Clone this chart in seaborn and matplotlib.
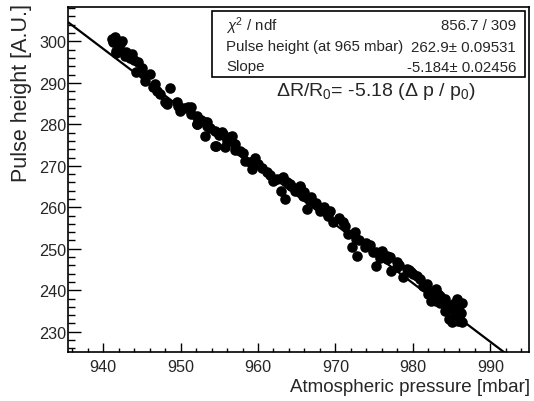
import numpy as np
import pandas as pd
import matplotlib
matplotlib.use('Agg')
import matplotlib.pyplot as plt
import seaborn as sns
from matplotlib.patches import Rectangle
from matplotlib.ticker import MultipleLocator

pressure = [
    941.5, 942.4, 941.7, 943.5, 944.5, 944.3, 945.4, 946.7, 948.6, 948.0,
    949.7, 951.0, 951.4, 952.1, 953.4, 954.4, 955.5, 956.6, 954.6,
    941.3, 942.2, 941.7, 942.8, 943.7, 946.0, 945.4, 946.5, 947.3, 948.2,
    949.5, 949.9, 951.0, 952.1, 953.4,
    951.4, 952.1, 952.1, 953.1, 953.1, 954.4, 955.3, 956.4, 955.7, 957.7,
    958.3, 959.2, 959.6, 961.1, 961.9, 963.2, 964.1, 965.4, 966.0, 963.0,
    963.5, 964.3, 965.4, 965.8, 966.7, 966.3, 968.0, 969.3, 969.7, 971.2,
    971.6, 972.7, 972.1, 973.8, 975.3, 976.6, 972.8,
    974.9, 975.3, 976.6, 977.9, 977.2, 979.2, 978.7, 979.8, 980.9, 981.3,
    982.4, 983.0, 983.0, 984.1, 985.2, 986.0, 984.7, 986.0, 985.4, 982.4,
    983.5, 985.1, 986.3, 984.9, 985.7,
    956.0, 957.0, 958.0, 959.0, 960.0, 960.5, 961.5, 962.5, 963.8, 964.8,
    967.5, 968.5, 970.5, 972.5, 973.0, 974.5, 976.0, 977.0, 978.2, 979.5,
    980.5, 981.8, 982.0, 983.5, 984.5, 985.5, 986.2, 984.2, 941.2, 942.0,
    943.0, 944.0, 945.0, 947.0, 950.5, 952.6, 953.8, 955.0, 957.0, 966.9,
    969.0, 971.0, 974.0, 975.8, 978.0, 980.0, 983.2, 985.8, 986.4,
]
pulse = [
    301.0, 300.1, 297.3, 296.1, 294.9, 292.5, 291.7, 289.7, 288.7, 285.3,
    284.5, 284.1, 282.5, 280.1, 279.7, 278.5, 277.7, 277.3, 274.8,
    299.8, 299.3, 297.7, 296.5, 296.9, 292.1, 290.5, 288.9, 287.3, 284.9,
    285.3, 283.3, 283.9, 281.7, 280.5,
    284.1, 282.1, 280.1, 280.5, 277.3, 274.8, 278.1, 276.9, 274.5, 273.6,
    271.2, 269.2, 272.0, 268.4, 266.4, 267.2, 265.6, 264.8, 263.6, 264.0,
    262.0, 265.2, 265.2, 262.8, 261.6, 259.6, 259.2, 259.2, 256.4, 255.6,
    253.6, 252.4, 250.4, 250.4, 249.2, 248.3, 248.3,
    249.2, 245.9, 247.5, 246.7, 244.7, 245.1, 243.1, 244.3, 242.7, 241.1,
    239.5, 240.3, 237.5, 237.9, 236.7, 236.3, 233.1, 233.9, 234.7, 237.5,
    238.7, 232.4, 232.3, 235.5, 237.8,
    276.0, 275.3, 273.0, 271.0, 270.4, 269.5, 267.8, 266.9, 266.0, 264.0,
    261.0, 260.0, 257.5, 254.0, 252.0, 251.0, 249.5, 248.0, 246.0, 244.8,
    243.5, 241.5, 239.0, 237.0, 236.0, 233.5, 234.5, 235.0, 300.6, 298.0,
    297.5, 295.5, 293.5, 288.0, 284.0, 281.0, 279.2, 277.5, 273.8, 262.5,
    258.0, 256.5, 251.5, 247.8, 245.5, 244.0, 239.0, 232.6, 237.0,
]

# Paramètres de l'ajustement
p0 = 965.0
r0 = 262.9
slope = -5.184
x_range = [935.5, 995.0]
y_range = [225.2, 308.2]

df = pd.DataFrame({'pressure': pressure, 'pulse': pulse})
fit_x = np.array(x_range)
fit_y = r0 + slope * r0 / p0 * (fit_x - p0)

sns.set_theme(style='white')
plt.rcParams['font.family'] = ['Liberation Sans', 'DejaVu Sans']
plt.rcParams['mathtext.fontset'] = 'custom'
plt.rcParams['mathtext.rm'] = 'Liberation Sans'
plt.rcParams['mathtext.it'] = 'Liberation Sans:italic'

W, H = 534, 402
fig = plt.figure(figsize=(W / 100, H / 100), dpi=100)
ax = fig.add_axes([68.3 / W, 1 - 352.7 / H, (529 - 68.3) / W, (352.7 - 8.3) / H])

sns.scatterplot(data=df, x='pressure', y='pulse', s=58, color='black',
                edgecolor='black', linewidth=0, ax=ax, zorder=3)
sns.lineplot(x=fit_x, y=fit_y, color='black', lw=1.6, ax=ax, zorder=4)

ax.set_xlim(x_range)
ax.set_ylim(y_range)
ax.set_xlabel('')
ax.set_ylabel('')
ax.xaxis.set_major_locator(MultipleLocator(10))
ax.xaxis.set_minor_locator(MultipleLocator(2))
ax.yaxis.set_major_locator(MultipleLocator(10))
ax.yaxis.set_minor_locator(MultipleLocator(2))
ax.tick_params(axis='x', which='major', direction='in', length=6.5, width=1,
               labelsize=11.7, pad=5, color='black')
ax.tick_params(axis='x', which='minor', direction='in', length=3.2, width=1, color='black')
ax.tick_params(axis='y', which='major', direction='in', length=9.5, width=1,
               labelsize=11.7, pad=1.5, color='black')
ax.tick_params(axis='y', which='minor', direction='in', length=4.7, width=1, color='black')
ax.tick_params(which='both', bottom=True, left=True, top=False, right=False)
for sp in ax.spines.values():
    sp.set_linewidth(1.2)
    sp.set_color('black')

# Titres des axes (alignés à droite / en haut, style ROOT)
fig.text(530 / W, 1 - 388 / H, 'Atmospheric pressure [mbar]', fontsize=13.5,
         ha='right', va='center')
fig.text(22 / W, 1 - 4 / H, 'Pulse height [A.U.]', fontsize=15.5,
         rotation=90, ha='center', va='top')

# Boîte de statistiques
fig.add_artist(Rectangle((212 / W, 1 - 78 / H), (525 - 212) / W, (78 - 12) / H,
                         transform=fig.transFigure, facecolor='white',
                         edgecolor='black', linewidth=1.2, zorder=5))
rows = [(r'$\chi^2$ / ndf', '856.7 / 309', 26),
        ('Pulse height (at 965 mbar)', '262.9± 0.09531', 47.5),
        ('Slope', '-5.184± 0.02456', 67.5)]
for left, right, yy in rows:
    fig.text(226 / W, 1 - yy / H, left, fontsize=10.8, ha='left', va='center', zorder=6)
    fig.text(516 / W, 1 - yy / H, right, fontsize=10.8, ha='right', va='center', zorder=6)

fig.text(276 / W, 1 - 92 / H, r'$\Delta$R/R$_0$= -5.18 ($\Delta$ p / p$_0$)',
         fontsize=14, ha='left', va='center')

fig.savefig('out.png', dpi=100)
